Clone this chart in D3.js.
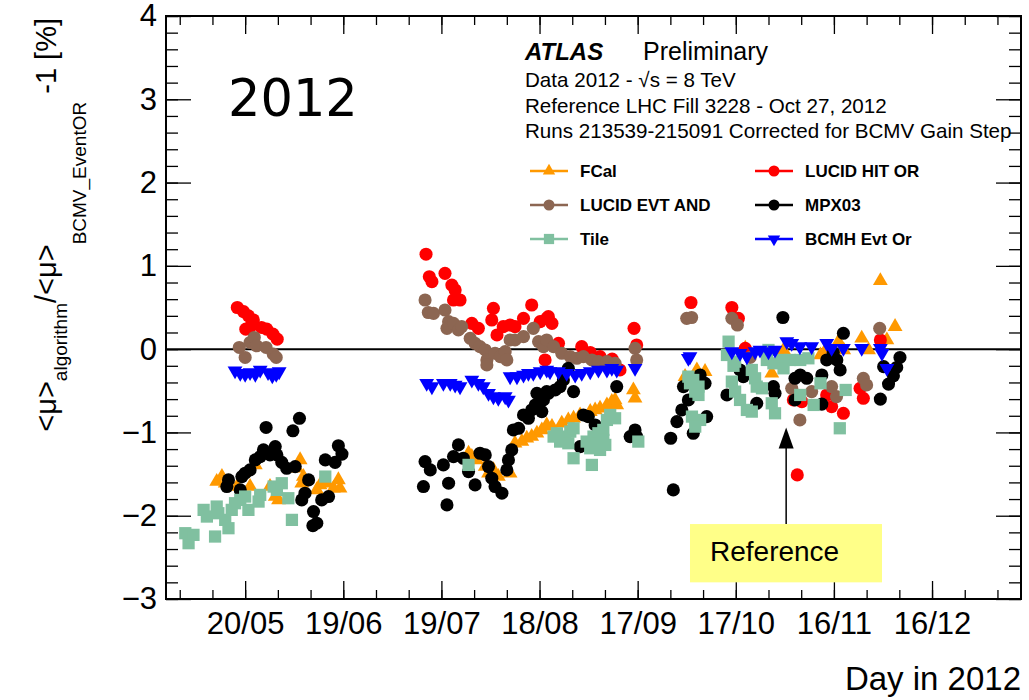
<!DOCTYPE html>
<html>
<head>
<meta charset="utf-8">
<script src="https://cdn.jsdelivr.net/npm/d3@7"></script>
<style>
body { margin: 0; background: #fff; }
svg { display: block; font-family: "Liberation Sans", Arial, Helvetica, sans-serif; }
</style>
</head>
<body>
<div class="chart"></div>
<script>
// values: [day of year 2012, deviation in %]
const fcal = [
    [132.3,-1.59],[133.9,-1.53],[134.9,-1.61],[138.5,-1.65],[142.5,-1.65],[144.1,-1.39],[148.6,-1.65],
    [150.2,-1.77],[151.2,-1.81],[157.8,-1.33],[156.8,-1.43],[158.8,-1.53],[158.3,-1.61],[162.9,-1.69],
    [163.9,-1.63],[166,-1.61],[168,-1.67],[170,-1.67],[169.5,-1.57],
    [209.3,-1.25],[210.3,-1.29],[211.8,-1.33],[214.4,-1.41],[215.4,-1.49],[216.9,-1.45],[218.4,-1.53],
    [222,-1.49],[223.5,-1.13],[225.6,-1.11],[227.1,-1.07],[228.6,-1.05],[230.2,-1.01],[231.7,-0.97],
    [233.2,-0.91],[234.8,-0.93],[237.8,-0.89],[239.8,-0.85],[241.4,-0.83],[243.4,-0.79],[246.5,-0.75],
    [248,-0.73],[249.5,-0.71],[251.6,-0.67],[253.1,-0.63],[254.1,-0.61],[254.6,-0.67],[259.7,-0.49],
    [260.2,-0.59],
    [275.5,-0.33],[279.1,-0.25],[281.6,-0.27],[293.9,0.01],[294.9,-0.03],[302,-0.29],[305.6,-0.01],
    [316.9,-0.07],[317.9,-0.05],[322.4,0.09],[324,-0.01],[329.5,0.13],[331.6,-0.01],[335.2,0.82],
    [337.2,0.11],[339.7,0.27]
];
const lucidHitOr = [
    [138.6,0.50],[140.5,0.45],[142,0.40],[143.5,0.35],[142.8,0.28],[141.2,0.24],[146,0.26],[147.6,0.24],
    [149.5,0.18],[150.8,0.12],
    [196.3,1.14],[197.3,0.87],[198.1,0.81],[202.1,0.91],[204.2,0.77],[205.2,0.71],[204.7,0.59],[206.7,0.59],
    [210.3,0.31],[212.3,0.25],[216.9,0.49],[216.4,0.35],[219.9,0.27],[222,0.29],[223.5,0.27],[226.1,0.37],
    [228.6,0.53],[231.2,0.33],[233.2,0.37],[218,0.17],[232.7,-0.13],[233.7,0.39],[234.8,0.31],[236.8,0.07],
    [243.9,0.03],[246.5,-0.04],[249.5,-0.09],[253.2,-0.12],[255.6,-0.25],[259.9,0.25],[260.7,0.05],
    [277.3,0.56],[289.8,0.50],[291.8,0.37],[293.9,0.01],[308.6,-0.61],[311.2,-0.63],[309.8,-1.51],
    [318.8,-0.55],[320.3,-0.69],[323.9,-0.77],[329,-0.47],[330,-0.59],[335.2,0.11]
];
const lucidEvtAnd = [
    [139.2,0.02],[141,-0.1],[142.5,0.08],[143.8,0.14],[144.5,0.04],[147.4,0.02],[149.6,-0.06],[150.5,-0.1],
    [196,0.59],[197,0.44],[198.6,0.43],[202.1,0.47],[203.2,0.33],[202.7,0.25],[204.7,0.31],[206.2,0.23],
    [207.2,0.27],[209.8,0.13],[211.3,0.07],[212.8,0.03],[214.4,-0.01],[214.9,-0.13],[214.9,-0.19],
    [217.4,-0.05],[219,-0.09],[220.5,-0.03],[221,-0.13],[222,0.11],[223.5,0.11],[226.1,0.15],[229.1,0.25],
    [230.7,0.09],[232.2,0.03],[233.2,0.11],[235.3,0.03],[237.8,-0.05],[240.4,-0.09],[242.4,-0.11],
    [244.4,-0.09],[247,-0.13],[249,-0.15],[251.6,-0.15],[254.1,-0.17],[260.2,0.01],[260.7,-0.13],
    [276,0.37],[277.5,0.38],[289.8,0.37],[291.5,0.29],[295.4,-0.1],[308.1,-0.47],[310.6,-0.85],
    [314.2,-0.51],[320.3,-0.45],[321.8,-0.57],[330,-0.35],[331,-0.43],[335,0.25]
];
const mpx03 = [
    [157.6,-0.83],[147.4,-0.94],[155.6,-0.98],[169.5,-1.16],[170.6,-1.26],[165.5,-1.33],[168.5,-1.36],
    [150.2,-1.17],[146.6,-1.21],[145.6,-1.29],[144.1,-1.33],[148.6,-1.27],[150.7,-1.27],[152.2,-1.36],
    [153.7,-1.43],[156.3,-1.41],[142.5,-1.45],[141,-1.49],[140,-1.53],[135.9,-1.57],[135.4,-1.65],
    [139.5,-1.69],[160.4,-1.57],[159.3,-1.73],[158.3,-1.81],[164.4,-1.81],[166.5,-1.77],[161.9,-1.95],
    [162.9,-2.09],[161.7,-2.12],
    [196,-1.35],[197.6,-1.45],[195.5,-1.65],[201.6,-1.39],[203.2,-1.61],[202.7,-1.87],[206.2,-1.15],
    [204.7,-1.29],[207.7,-1.31],[209.3,-1.47],[211.3,-1.63],[212.8,-1.25],[214.4,-1.27],[215.4,-1.41],
    [216.4,-1.55],[217.4,-1.65],[219.5,-1.73],[221,-1.45],[221.5,-1.33],[222.5,-1.21],[223,-0.97],
    [224.6,-0.95],[226.1,-0.79],[227.6,-0.83],[228.6,-0.73],[229.7,-0.67],[230.2,-0.53],[231.7,-0.75],
    [232.2,-0.61],[233.7,-0.53],[239.8,-0.23],[238.3,-0.37],[237.3,-0.45],[235.8,-0.49],[233.2,-0.51],
    [241.4,-0.51],[254.6,-0.45],[244.4,-0.79],[245.9,-0.81],[248,-0.91],[243.4,-1.17],[258.7,-1.05],
    [260.7,-1.05],[260.2,-0.97],
    [271.9,-1.69],[271.1,-1.07],[273,-0.87],[274.5,-0.73],[276.5,-0.61],[275,-0.45],[278,-1.01],
    [282.1,-0.81],[280.1,-0.31],[281.6,-0.41],[288.3,-0.55],[292.3,-0.25],[293.3,-0.33],[297.4,-0.65],
    [302.5,-0.45],[303,-0.53],[305.4,0.38],[309.1,-0.35],[310.7,-0.31],[312.7,-0.35],[309.1,-0.61],
    [317.3,-0.31],[317.3,-0.66],[318.8,-0.13],[320.8,-0.04],[321.9,-0.13],[322.9,-0.25],[323.9,0.19],
    [335.2,-0.60],[336.2,-0.21],[337.7,-0.42],[339.2,-0.32],[340.2,-0.22],[341.2,-0.10]
];
const tile = [
    [122.7,-2.21],[123.7,-2.33],[125.2,-2.23],[128.3,-1.93],[129.3,-2.01],[132.3,-1.89],[132.8,-1.97],
    [134.9,-2.05],[135.9,-2.15],[136.9,-1.93],[137.9,-1.85],[139.5,-1.81],[141,-1.77],[142,-1.93],
    [145.1,-1.83],[145.6,-1.75],[149.7,-1.65],[150.7,-1.69],[152.2,-1.61],[154.2,-1.79],[155.3,-2.05],
    [131.8,-2.25],[165.5,-1.53],
    [209.3,-1.39],[236.3,-1.01],[238.8,-1.05],[240.4,-0.99],[241.4,-0.95],[237.3,-1.11],[239.8,-1.13],
    [245.4,-1.11],[247.5,-1.05],[249,-1.01],[250.5,-0.97],[251.6,-0.85],[252.6,-0.79],[254.1,-0.83],
    [248.5,-1.13],[251.1,-1.15],[249.5,-1.21],[246.5,-1.19],[247,-1.39],[241.4,-1.31],[250.5,-1.09],
    [261.2,-1.11],[235.3,-1.05],
    [276.5,-0.33],[278,-0.37],[277,-0.41],[279.6,-0.45],[278.6,-0.51],[279.6,-0.55],[277.6,-0.81],
    [280.1,-0.85],[278.6,-0.93],[288.8,0.09],[288.3,-0.07],[290.8,-0.15],[290.3,-0.2],[289.8,-0.39],
    [290.8,-0.51],[292.3,-0.61],[294.4,-0.73],[295.9,-0.75],[295.9,-0.25],[296.9,-0.35],[297.4,-0.45],
    [299,-0.47],[301,-0.01],[300.5,-0.13],[302.5,-0.17],[302,-0.65],[303,-0.77],[305.1,-0.13],
    [305.6,-0.23],[307.6,-0.13],[310.7,-0.13],[313.2,-0.11],[310.7,-0.55],[314.8,-0.67],[316.9,-0.41],
    [324.6,-0.49],[322.8,-0.95]
];
const bcmhEvtOr = [
    [137.9,-0.26],[139.5,-0.29],[141,-0.30],[142.5,-0.28],[144.1,-0.30],[145.6,-0.25],[148,-0.28],
    [149.3,-0.32],[150.5,-0.30],[151.4,-0.27],
    [196.5,-0.41],[198.1,-0.45],[201.6,-0.41],[203.7,-0.41],[205.2,-0.43],[206.7,-0.45],[210.3,-0.37],
    [212.3,-0.41],[213.8,-0.45],[215.4,-0.53],[216.9,-0.57],[218.4,-0.59],[220.5,-0.57],[221.5,-0.61],
    [222,-0.33],[224.1,-0.33],[226.1,-0.31],[227.6,-0.29],[229.1,-0.29],[231.2,-0.27],[233.2,-0.25],
    [234.2,-0.27],[236.8,-0.27],[239.3,-0.29],[241.9,-0.31],[243.9,-0.29],[246.5,-0.27],[249,-0.25],
    [251.6,-0.25],[253.1,-0.23],[254.6,-0.25],[260.2,-0.23],
    [276.5,-0.11],[277,-0.09],[289.8,-0.03],[292.3,-0.05],[294.4,-0.09],[296.9,-0.03],[298.4,-0.01],
    [301,-0.03],[303,-0.01],[306.6,0.09],[308.1,0.07],[310.6,0.03],[314.2,0.03],[318.8,0.07],
    [320.3,0.01],[323.9,0.01],[329.5,0.01],[335.2,0.01],[335.7,-0.05],[337.2,-0.23]
];

const majorDays = [141, 171, 201, 231, 261, 291, 321, 351];
const tickLabels = ["20/05", "19/06", "19/07", "18/08", "17/09", "17/10", "16/11", "16/12"];
const minorDays = [121, 131, 141, 151, 161, 171, 181, 191, 201, 211, 221, 231, 241, 251, 261,
    271, 281, 291, 301, 311, 321, 331, 341, 351, 361, 371];
const yMajor = [-3, -2, -1, 0, 1, 2, 3, 4];

// reference annotation, in data units
const refDay = 306.4;
const refTip = -0.94;
const refBox = { d0: 277, d1: 335.7, v0: -2.1, v1: -2.8 };

const w = 1029;
const h = 700;
const frame = { left: 166, right: 1021, top: 16, bottom: 599 };

const svg = d3.select(".chart").append("svg").attr("width", w).attr("height", h);

const xScale = d3.scaleLinear().domain([116.8, 378.2]).range([frame.left, frame.right]);
const yScale = d3.scaleLinear().domain([-3, 4]).range([frame.bottom, frame.top]);

const series = [
    { name: "FCal", data: fcal, color: "#ff9900", shape: d3.symbolTriangle, flip: false, size: 95 },
    { name: "LUCID HIT OR", data: lucidHitOr, color: "#ff0000", shape: d3.symbolCircle, flip: false, size: 135 },
    { name: "LUCID EVT AND", data: lucidEvtAnd, color: "#8c6652", shape: d3.symbolCircle, flip: false, size: 135 },
    { name: "MPX03", data: mpx03, color: "#000000", shape: d3.symbolCircle, flip: false, size: 135 },
    { name: "Tile", data: tile, color: "#80c0a0", shape: d3.symbolSquare, flip: false, size: 150 },
    { name: "BCMH Evt Or", data: bcmhEvtOr, color: "#0000ff", shape: d3.symbolTriangle, flip: true, size: 95 }
];

// axes (ROOT style: ticks inside, on all four sides)
function styleAxis(g) {
    g.select(".domain").remove();
    g.selectAll(".tick line").attr("stroke", "#000").attr("stroke-width", 1.3);
    g.attr("font-family", null).attr("font-size", 31);
    g.selectAll(".tick text").attr("fill", "#000");
}

svg.append("g").attr("transform", `translate(0,${frame.bottom})`)
    .call(d3.axisBottom(xScale).tickValues(minorDays).tickSize(-9).tickFormat(""))
    .call(styleAxis);
svg.append("g").attr("transform", `translate(0,${frame.bottom})`)
    .call(d3.axisBottom(xScale).tickValues(majorDays).tickSize(-18).tickPadding(13)
        .tickFormat((d, i) => tickLabels[i]))
    .call(styleAxis);
svg.append("g").attr("transform", `translate(0,${frame.top})`)
    .call(d3.axisTop(xScale).tickValues(minorDays).tickSize(-9).tickFormat(""))
    .call(styleAxis);
svg.append("g").attr("transform", `translate(0,${frame.top})`)
    .call(d3.axisTop(xScale).tickValues(majorDays).tickSize(-18).tickFormat(""))
    .call(styleAxis);

const yMinor = d3.range(-3, 4.001, 0.2);
svg.append("g").attr("transform", `translate(${frame.left},0)`)
    .call(d3.axisLeft(yScale).tickValues(yMinor).tickSize(-12).tickFormat(""))
    .call(styleAxis);
svg.append("g").attr("transform", `translate(${frame.left},0)`)
    .call(d3.axisLeft(yScale).tickValues(yMajor).tickSize(-25).tickPadding(9).tickFormat(d3.format("d")))
    .call(styleAxis);
svg.append("g").attr("transform", `translate(${frame.right},0)`)
    .call(d3.axisRight(yScale).tickValues(yMinor).tickSize(-12).tickFormat(""))
    .call(styleAxis);
svg.append("g").attr("transform", `translate(${frame.right},0)`)
    .call(d3.axisRight(yScale).tickValues(yMajor).tickSize(-25).tickFormat(""))
    .call(styleAxis);

// zero line
svg.append("line")
    .attr("x1", frame.left).attr("x2", frame.right)
    .attr("y1", yScale(0)).attr("y2", yScale(0))
    .attr("stroke", "#000").attr("stroke-width", 2);

// data points
series.forEach((s) => {
    const sym = d3.symbol().type(s.shape).size(s.size);
    svg.append("g")
        .selectAll("path")
        .data(s.data)
        .join("path")
        .attr("d", sym)
        .attr("fill", s.color)
        .attr("transform", (d) =>
            `translate(${xScale(d[0])},${yScale(d[1])})${s.flip ? " rotate(180)" : ""}`);
});

// frame
svg.append("rect")
    .attr("x", frame.left).attr("y", frame.top)
    .attr("width", frame.right - frame.left).attr("height", frame.bottom - frame.top)
    .attr("fill", "none").attr("stroke", "#000").attr("stroke-width", 2);

// axis titles
svg.append("text")
    .attr("x", frame.right).attr("y", 690)
    .attr("text-anchor", "end").attr("font-size", 33)
    .text("Day in 2012");

const yTitle = svg.append("text")
    .attr("transform", "translate(56,18) rotate(-90)")
    .attr("text-anchor", "end")
    .attr("font-size", 29);
yTitle.append("tspan").text("<μ>");
yTitle.append("tspan").attr("font-size", 19).attr("dy", 11).text("algorithm");
yTitle.append("tspan").attr("dy", -11).text("/<μ>");
yTitle.append("tspan").attr("font-size", 19).attr("dy", 30).text("BCMV_EventOR");
yTitle.append("tspan").attr("dy", -30).text(" -1 [%]");

// labels
svg.append("text")
    .attr("x", 228).attr("y", 116)
    .attr("font-family", "DejaVu Sans").attr("font-size", 51)
    .text("2012");

svg.append("text")
    .attr("x", 525).attr("y", 60)
    .attr("font-size", 24).attr("font-weight", "bold").attr("font-style", "italic")
    .text("ATLAS");
svg.append("text")
    .attr("x", 643).attr("y", 60)
    .attr("font-size", 25)
    .text("Preliminary");

const infoLines = [
    "Data 2012 - √s = 8 TeV",
    "Reference LHC Fill 3228 - Oct 27, 2012",
    "Runs 213539-215091 Corrected for BCMV Gain Step"
];
svg.append("g")
    .selectAll("text")
    .data(infoLines)
    .join("text")
    .attr("x", 525)
    .attr("y", (d, i) => 87 + i * 25.5)
    .attr("font-size", 20.6)
    .text((d) => d);

// legend
const legend = svg.append("g")
    .selectAll("g")
    .data(series)
    .join("g")
    .attr("transform", (d, i) => `translate(${i % 2 === 0 ? 530 : 755},${171 + Math.floor(i / 2) * 34})`);
legend.append("line")
    .attr("x1", 0).attr("x2", 38)
    .attr("stroke", (d) => d.color).attr("stroke-width", 2.5);
legend.append("path")
    .attr("d", (d) => d3.symbol().type(d.shape).size(d.size * 0.7)())
    .attr("fill", (d) => d.color)
    .attr("transform", (d) => `translate(19,0)${d.flip ? " rotate(180)" : ""}`);
legend.append("text")
    .attr("x", 50).attr("dy", "0.35em")
    .attr("font-size", 17).attr("font-weight", "bold")
    .text((d) => d.name);

// reference box and arrow
svg.append("rect")
    .attr("x", xScale(refBox.d0)).attr("y", yScale(refBox.v0))
    .attr("width", xScale(refBox.d1) - xScale(refBox.d0))
    .attr("height", yScale(refBox.v1) - yScale(refBox.v0))
    .attr("fill", "#ffff88");
svg.append("text")
    .attr("x", xScale(refBox.d0) + 20).attr("y", yScale(-2.54))
    .attr("font-size", 28)
    .text("Reference");
svg.append("line")
    .attr("x1", xScale(refDay)).attr("x2", xScale(refDay))
    .attr("y1", yScale(refBox.v0)).attr("y2", yScale(refTip) + 18)
    .attr("stroke", "#000").attr("stroke-width", 1.5);
const tipX = xScale(refDay);
const tipY = yScale(refTip);
svg.append("path")
    .attr("d", `M${tipX},${tipY}L${tipX - 7.5},${tipY + 21}L${tipX + 7.5},${tipY + 21}Z`)
    .attr("fill", "#000");
</script>
</body>
</html>
